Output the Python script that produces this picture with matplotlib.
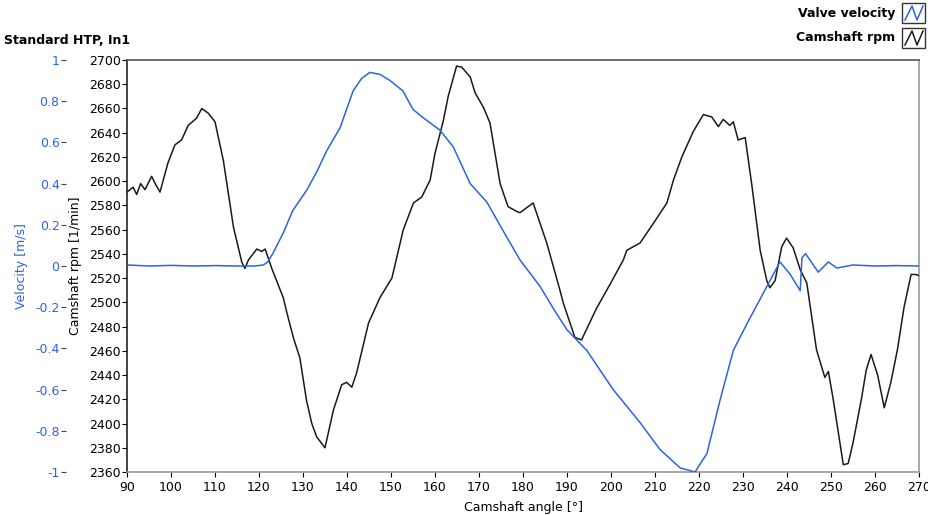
import matplotlib
matplotlib.use("Agg")
import matplotlib.pyplot as plt
from matplotlib.lines import Line2D
from matplotlib.patches import Rectangle

title = "Standard HTP, In1"
x_label = "Camshaft angle [°]"
vel_label = "Velocity [m/s]"
rpm_label = "Camshaft rpm [1/min]"
legend_names = ["Valve velocity", "Camshaft rpm"]

x_ticks = [90, 100, 110, 120, 130, 140, 150, 160, 170, 180, 190, 200, 210, 220, 230, 240, 250, 260, 270]
rpm_ticks = [2360, 2380, 2400, 2420, 2440, 2460, 2480, 2500, 2520, 2540, 2560, 2580, 2600, 2620, 2640, 2660, 2680, 2700]
vel_ticks = [-1, -0.8, -0.6, -0.4, -0.2, 0, 0.2, 0.4, 0.6, 0.8, 1]
vel_tick_labels = ["-1", "-0.8", "-0.6", "-0.4", "-0.2", "0", "0.2", "0.4", "0.6", "0.8", "1"]

vel_angle = [90, 95, 100, 105, 110, 115, 119, 121, 122, 123.2, 125.5, 127.7, 130.9, 133.2, 135.4, 138.4, 141.4,
             143.3, 145.2, 147.5, 149.8, 152.7, 155, 157.3, 161.1, 164.1, 168, 171.8, 175.5, 179.3,
             183.9, 187, 190, 194.5, 200.5, 206.6, 211.1, 215.7, 219.1, 221.8, 224.8, 227.8, 230.9,
             235.4, 238.4, 240.7, 243, 243.4, 244.2, 245.5, 247.1, 249.4, 251.3, 255, 260, 265, 270]
vel_value = [0.005, 0.0, 0.003, 0.0, 0.002, 0.0, 0.0, 0.005, 0.02, 0.063, 0.16, 0.27, 0.37, 0.46, 0.56, 0.67, 0.85,
             0.91, 0.94, 0.93, 0.90, 0.85, 0.76, 0.72, 0.66, 0.58, 0.40, 0.31, 0.17, 0.03,
             -0.10, -0.21, -0.31, -0.41, -0.60, -0.76, -0.89, -0.98, -1.0, -0.91, -0.65, -0.41, -0.28,
             -0.10, 0.02, -0.04, -0.12, 0.04, 0.06, 0.02, -0.03, 0.02, -0.01, 0.005, 0.0, 0.002, 0.0]

rpm_angle = [90, 91.4, 92.2, 93.1, 94.1, 95.6, 96.4, 97.5, 99.3, 100.9, 102.4, 103.9, 105.8, 107, 108.5, 110,
             111.9, 114.2, 116.1, 116.8, 117.6, 119.5, 120.6, 121.4, 122.9, 125.5, 126.3, 127.8, 129.3,
             130.8, 132, 133.1, 135, 136.9, 138.8, 139.9, 141.1, 142.2, 144.9, 147.5, 150.2, 152.8, 155.1,
             157, 158.9, 160, 161.9, 163, 164.9, 166.1, 168, 169.1, 171, 172.5, 174.8, 176.6, 178.6, 179.3,
             182.3, 185.4, 188.4, 189.2, 191.8, 193.3, 196.7, 199.8, 202.8, 203.6, 206.6, 209.6, 212.7,
             214.2, 216.1, 218.7, 221, 222.9, 224.4, 225.5, 227, 227.8, 228.9, 230.5, 232, 233.9, 235.4,
             236.1, 237.3, 238.8, 239.9, 241.4, 243, 244.5, 246.7, 248.6, 249.4, 250.5, 252.8, 253.9, 255,
             256.9, 258, 259.1, 260.6, 262.1, 263.6, 265.1, 266.6, 268.2, 269.3, 270]
rpm_value = [2591, 2595, 2589, 2598, 2593, 2604, 2598, 2591, 2615, 2630, 2634, 2646, 2652, 2660, 2656, 2649,
             2617, 2562, 2533, 2528, 2535, 2544, 2542, 2544, 2528, 2504, 2492, 2471, 2454,
             2419, 2400, 2389, 2380, 2411, 2432, 2434, 2430, 2442, 2483, 2504, 2520, 2560, 2582,
             2587, 2601, 2623, 2650, 2670, 2695, 2694, 2686, 2673, 2661, 2648, 2598, 2579, 2575, 2574,
             2582, 2549, 2510, 2499, 2471, 2469, 2495, 2515, 2535, 2543, 2549, 2565, 2582,
             2601, 2620, 2641, 2655, 2653, 2645, 2651, 2646, 2649, 2634, 2636, 2597, 2543, 2518,
             2512, 2518, 2546, 2553, 2545, 2527, 2516, 2461, 2438, 2443, 2420, 2366, 2367, 2384,
             2420, 2444, 2457, 2440, 2413, 2434, 2461, 2496, 2523, 2523, 2522]

blue = "#2b63e3"
dark = "#1a1a1a"
W, H = 929, 515
PX = 72 / 100  # points per pixel
fig = plt.figure(figsize=(W / 100, H / 100), dpi=100)
plt.rcParams['font.family'] = ['DejaVu Sans']
ax = fig.add_axes([127 / W, 1 - 472 / H, (919 - 127) / W, (472 - 60) / H])

ax.plot(rpm_angle, rpm_value, color=dark, lw=1.1, zorder=3)
ax.set_xlim(90, 270)
ax.set_ylim(2360, 2700)
ax.set_xticks(x_ticks)
ax.set_yticks(rpm_ticks)
ax.tick_params(axis='both', direction='out', length=5 * PX, labelsize=9, colors='black', pad=1)
ax.tick_params(axis='x', pad=3)
ax.spines['top'].set_color('#555555')
ax.spines['right'].set_color('#999999')
ax.spines['bottom'].set_color('#999999')
ax.spines['left'].set_color('#222222')
for s in ax.spines.values():
    s.set_linewidth(1.2)

axv = ax.twinx()
axv.plot(vel_angle, vel_value, color=blue, lw=1.1, zorder=2)
axv.set_ylim(-1, 1)
axv.set_yticks(vel_ticks)
axv.set_yticklabels(vel_tick_labels)
axv.yaxis.set_ticks_position('left')
axv.yaxis.set_label_position('left')
axv.spines['left'].set_position(('outward', 61 * PX))
for s in ['left', 'right', 'top', 'bottom']:
    axv.spines[s].set_visible(False)
axv.tick_params(axis='y', direction='out', length=5 * PX, labelsize=9, colors=blue, pad=1)
axv.tick_params(axis='y', color='#444444')

fig.text(22 / W, 1 - 266 / H, vel_label, color=blue, fontsize=9, rotation=90, ha='center', va='center')
fig.text(75 / W, 1 - 266 / H, rpm_label, color='black', fontsize=9, rotation=90, ha='center', va='center')
fig.text(523 / W, 1 - 507 / H, x_label, fontsize=9, ha='center', va='center')
fig.text(4 / W, 1 - 40 / H, title, fontsize=9, fontweight='bold', ha='left', va='center')

# legend
for i, (name, col) in enumerate(zip(legend_names, [blue, dark])):
    yc = 13 + i * 25
    fig.text(895 / W, 1 - yc / H, name, fontsize=9, fontweight='bold', ha='right', va='center')
    fig.patches.append(Rectangle((902 / W, 1 - (yc + 10) / H), 23 / W, 20 / H, transform=fig.transFigure,
                                 facecolor='white', edgecolor='#333333', lw=1))
    fig.lines.append(Line2D([905 / W, 912 / W, 917 / W, 923 / W],
                            [1 - (yc + 7) / H, 1 - (yc - 7) / H, 1 - (yc + 7) / H, 1 - (yc - 7) / H],
                            transform=fig.transFigure, color=col, lw=1.1))

fig.savefig("out.png", dpi=100)
